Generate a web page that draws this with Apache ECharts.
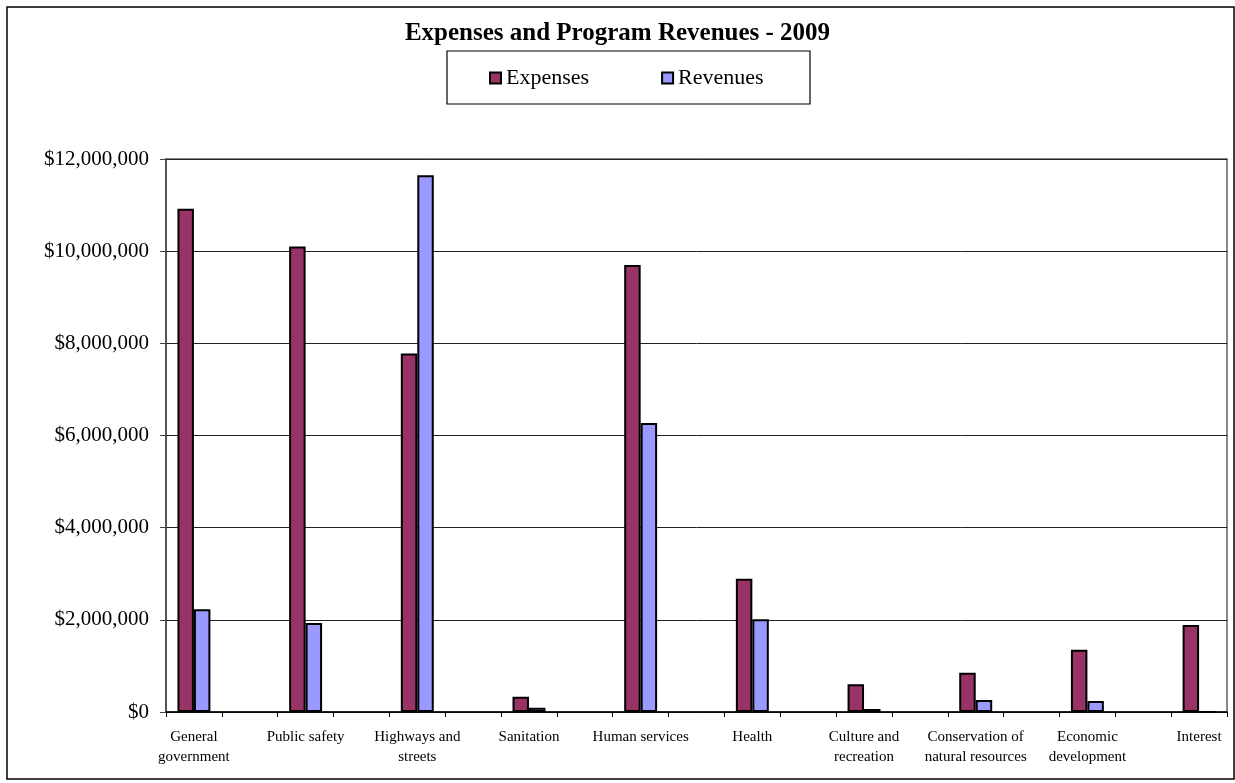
<!DOCTYPE html>
<html>
<head>
<meta charset="utf-8">
<title>Expenses and Program Revenues - 2009</title>
<script src="https://cdn.jsdelivr.net/npm/echarts@6/dist/echarts.min.js"></script>
<style>
  html, body { margin: 0; padding: 0; background: #fff; }
  #chart { width: 1235px; height: 783px; }
</style>
</head>
<body>
<div id="chart"></div>
<script>
// Functions of county government
var categories = [
  'General\ngovernment',
  'Public safety',
  'Highways and\nstreets',
  'Sanitation',
  'Human services',
  'Health',
  'Culture and\nrecreation',
  'Conservation of\nnatural resources',
  'Economic\ndevelopment',
  'Interest'
];

// Dollars
var expenses = [10920000, 10100000, 7780000, 330000, 9700000, 2890000, 600000, 850000, 1350000, 1890000];
var revenues = [2230000, 1930000, 11650000, 90000, 6270000, 2010000, 65000, 260000, 240000, 0];

var yTicks = [0, 2000000, 4000000, 6000000, 8000000, 10000000, 12000000];

// Each function sits in its own slot, with an empty slot between neighbours
function spread(arr, blank) {
  var out = [];
  arr.forEach(function (v, i) {
    out.push(v);
    if (i < arr.length - 1) out.push(blank);
  });
  return out;
}

var slotLabels = spread(categories, '');
var slotExpenses = spread(expenses, null);
var slotRevenues = spread(revenues, null);

function money(v) {
  return '$' + String(v).replace(/\B(?=(\d{3})+(?!\d))/g, ',');
}

var serif = '"Liberation Serif", "Times New Roman", serif';

var chart = echarts.init(document.getElementById('chart'), null, { renderer: 'canvas' });

chart.setOption({
  backgroundColor: '#fff',
  animation: false,
  title: {
    text: 'Expenses and Program Revenues - 2009',
    left: 'center',
    top: 16,
    textStyle: { fontFamily: serif, fontSize: 25, fontWeight: 'bold', color: '#000' }
  },
  graphic: [
    {
      type: 'rect',
      shape: { x: 7, y: 7, width: 1227, height: 772 },
      style: { fill: 'none', stroke: '#000', lineWidth: 1.5 },
      silent: true, z: 0
    },
    {
      type: 'rect',
      shape: { x: 447, y: 51, width: 363, height: 53 },
      style: { fill: '#fff', stroke: '#000', lineWidth: 1.2 },
      silent: true, z: 1
    }
  ],
  legend: {
    data: ['Expenses', 'Revenues'],
    left: 484,
    top: 62,
    icon: 'rect',
    itemWidth: 11,
    itemHeight: 11,
    itemGap: 72,
    z: 5,
    textStyle: { fontFamily: serif, fontSize: 22, color: '#000', padding: [0, 0, 0, 0] }
  },
  grid: {
    left: 166,
    right: 8,
    top: 159,
    bottom: 71,
    show: true,
    borderColor: '#888',
    borderWidth: 2,
    backgroundColor: 'transparent'
  },
  xAxis: {
    type: 'category',
    data: slotLabels,
    boundaryGap: true,
    axisLine: { lineStyle: { color: '#000', width: 1.5 } },
    axisTick: { show: true, interval: 0, alignWithLabel: false, length: 5, lineStyle: { color: '#000' } },
    axisLabel: {
      interval: 0,
      margin: 15,
      fontFamily: serif,
      fontSize: 15,
      lineHeight: 20,
      color: '#000'
    },
    splitLine: { show: false }
  },
  yAxis: {
    type: 'value',
    min: yTicks[0],
    max: yTicks[yTicks.length - 1],
    interval: yTicks[1] - yTicks[0],
    axisLine: { show: true, lineStyle: { color: '#444', width: 1.5 } },
    axisTick: { show: true, length: 6, lineStyle: { color: '#444' } },
    axisLabel: {
      margin: 17,
      fontFamily: serif,
      fontSize: 21,
      color: '#000',
      formatter: money
    },
    splitLine: { show: true, lineStyle: { color: '#222', width: 1 } }
  },
  series: [
    {
      name: 'Expenses',
      type: 'bar',
      data: slotExpenses,
      barGap: '0%',
      barCategoryGap: '41%',
      itemStyle: { color: '#993366', borderColor: '#000', borderWidth: 2 }
    },
    {
      name: 'Revenues',
      type: 'bar',
      data: slotRevenues,
      barGap: '0%',
      barCategoryGap: '41%',
      itemStyle: { color: '#9999FF', borderColor: '#000', borderWidth: 2 }
    }
  ]
});
</script>
</body>
</html>
